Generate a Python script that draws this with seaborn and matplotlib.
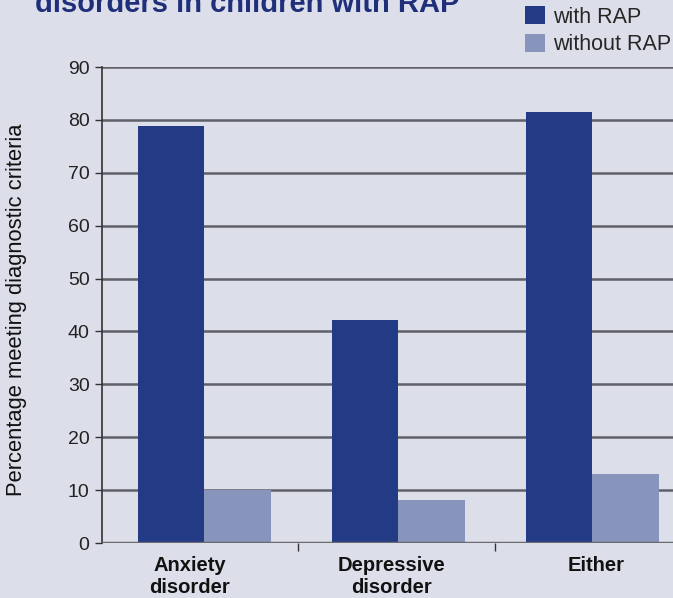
import numpy as np
import pandas as pd
import seaborn as sns
import matplotlib.pyplot as plt

# --- data ---
categories = ["Anxiety\ndisorder", "Depressive\ndisorder", "Either"]
groups = ["with RAP", "without RAP"]
with_rap = [78.8, 42.2, 81.5]
without_rap = [10.0, 8.1, 13.1]

BG = "#dcdfea"
DARK = "#233a85"
LIGHT = "#8795bd"
TITLE_COL = "#1f2f7a"

df = pd.DataFrame({
    "cat": categories * 2,
    "grp": [groups[0]] * 3 + [groups[1]] * 3,
    "val": with_rap + without_rap,
})

sns.set_style("white")
plt.rcParams["font.family"] = ["Liberation Sans", "DejaVu Sans"]

fig = plt.figure(figsize=(6.73, 5.98), dpi=100, facecolor=BG)
W, H = 673, 598
# axes spills past the right edge, like the cropped original
ax = fig.add_axes([102 / W, (H - 543) / H, 600 / W, 476 / H])
ax.set_facecolor(BG)

sns.barplot(data=df, x="cat", y="val", hue="grp", hue_order=groups,
            palette=[DARK, LIGHT], width=0.69, gap=0, saturation=1,
            edgecolor="none", linewidth=0, ax=ax, legend=True, zorder=3)

ax.set_ylim(0, 90)
ax.set_xlim(-0.528, -0.528 + 600 / 194)
ax.set_yticks(np.arange(0, 91, 10))
ax.yaxis.grid(True, color="#606068", linewidth=1.8, zorder=0)
ax.set_axisbelow(True)
for s in ["top", "right", "bottom"]:
    ax.spines[s].set_visible(False)
ax.spines["left"].set_color("#333333")
ax.spines["left"].set_linewidth(1.2)
ax.axhline(0, color="#6a6a70", linewidth=2.5, zorder=4)

ax.tick_params(axis="y", which="major", left=True, length=5, width=1,
               color="#333333", labelsize=14, pad=4, labelcolor="#222222")
ax.set_xticks([-0.077, 0.966, 2.018])
ax.set_xticklabels(categories, fontsize=14.5, fontweight="bold",
                   linespacing=1.18, color="#111111")
ax.tick_params(axis="x", which="major", bottom=False, pad=6)
ax.set_xticks([0.482, 1.497], minor=True)
ax.tick_params(axis="x", which="minor", bottom=True, length=6, width=1,
               color="#333333")
ax.set_xlabel("")
ax.set_ylabel("")
fig.text(17 / W, 1 - 310 / H, "Percentage meeting diagnostic criteria",
         rotation=90, fontsize=15.8, color="#111111", ha="center", va="center")

handles, labels = ax.get_legend_handles_labels()
ax.legend(handles, labels, loc="upper left",
          bbox_to_anchor=(525 / W, 1 - 6 / H), bbox_transform=fig.transFigure,
          frameon=False, fontsize=15.5, handlelength=0.93, handleheight=0.93,
          handletextpad=0.35, labelspacing=0.29, borderaxespad=0,
          borderpad=0)

fig.text(35 / W, 1 - 12 / H, "disorders in children with RAP", color=TITLE_COL,
         fontsize=21, fontweight="bold", va="baseline")

fig.savefig("out.png", dpi=100, facecolor=BG)
